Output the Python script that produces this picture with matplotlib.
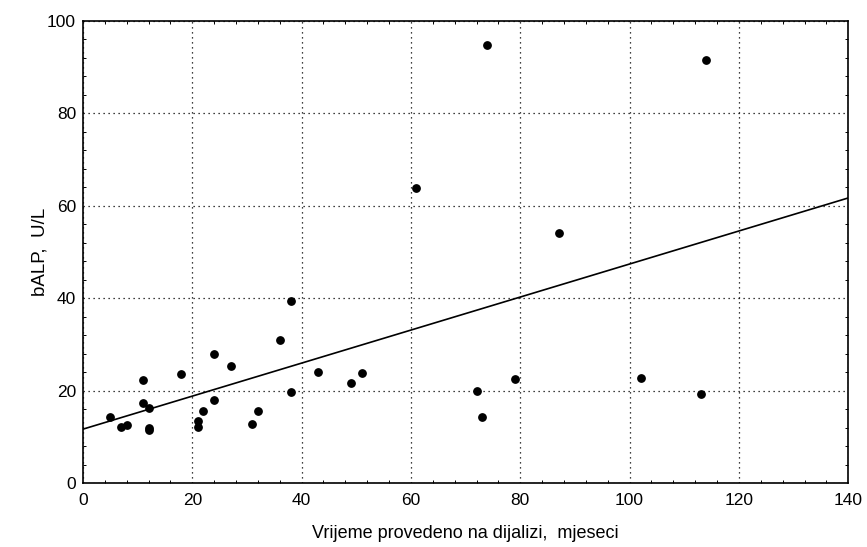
import numpy as np
import matplotlib.pyplot as plt
from matplotlib.ticker import MultipleLocator

plt.rcParams['font.family'] = ['Liberation Sans', 'DejaVu Sans']

# Data
months = [5, 7, 8, 11, 11, 12, 12, 12, 18, 21, 21, 22, 24, 24, 27, 31, 32,
          36, 38, 43, 38, 49, 51, 72, 73, 79, 74, 114, 87, 102, 113, 61]
balp = [14.4, 12.2, 12.5, 22.4, 17.4, 16.2, 12.0, 11.5, 23.6, 13.4, 12.2,
        15.6, 27.9, 18.1, 25.4, 12.8, 15.6, 31.0, 19.7, 24.1, 39.5, 21.6,
        23.8, 20.0, 14.3, 22.6, 94.7, 91.4, 54.0, 22.8, 19.2, 63.9]

# Regression line as drawn
intercept = 11.7
slope = 0.357
line_x = [0, 140]

fig = plt.figure(figsize=(8.67, 5.47), dpi=100)
ax = fig.add_axes([0.0957, 0.1165, 0.8827, 0.8457])

ax.plot(line_x, [intercept + slope * x for x in line_x], color='black', lw=1.2, zorder=3)
ax.scatter(months, balp, s=28, color='black', zorder=4)

ax.set_xlim(0, 140)
ax.set_ylim(0, 100)
ax.xaxis.set_major_locator(MultipleLocator(20))
ax.yaxis.set_major_locator(MultipleLocator(20))
ax.xaxis.set_minor_locator(MultipleLocator(4))
ax.yaxis.set_minor_locator(MultipleLocator(4))

ax.grid(True, which='major', color='black', linestyle=(0, (1, 3)), linewidth=0.9)
ax.tick_params(which='both', direction='in', top=True, right=True,
               labelsize=12.5, colors='black')
ax.tick_params(which='major', length=0, pad=7)
ax.tick_params(axis='y', which='major', pad=5)
ax.tick_params(which='minor', length=2.5, width=0.7)

for sp in ax.spines.values():
    sp.set_linewidth(1.2)

ax.set_xlabel("Vrijeme provedeno na dijalizi,  mjeseci", fontsize=13, labelpad=12)
ax.set_ylabel("bALP,  U/L", fontsize=13.5, labelpad=-1)

fig.savefig("out.png", dpi=100)
